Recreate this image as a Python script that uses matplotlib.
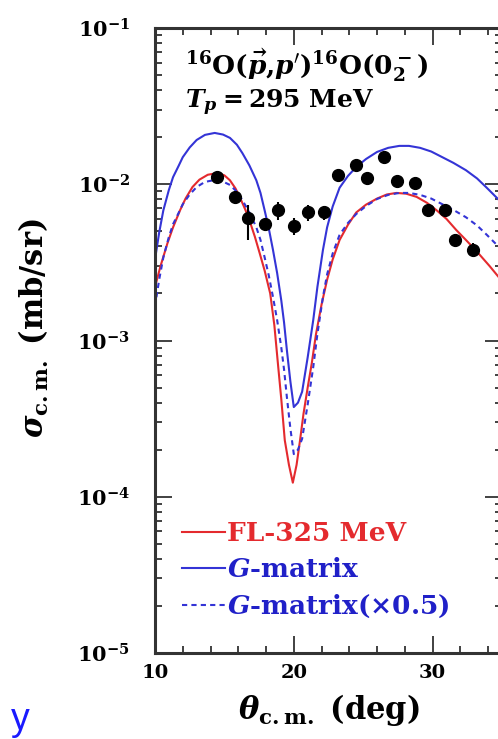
import matplotlib
matplotlib.use('Agg')
import matplotlib.pyplot as plt
import numpy as np
from matplotlib.ticker import FixedLocator, FixedFormatter, MultipleLocator, LogLocator, NullFormatter

plt.rcParams['font.family'] = ['DejaVu Serif']
plt.rcParams['font.weight'] = 'bold'
plt.rcParams['mathtext.fontset'] = 'dejavuserif'
plt.rcParams['mathtext.default'] = 'bf'

# measured cross sections (deg, mb/sr)
theta_exp = [14.5, 15.75, 16.7, 17.9, 18.85, 20.05, 21.0, 22.2, 23.2, 24.5,
             25.3, 26.5, 27.4, 28.7, 29.7, 30.9, 31.6, 32.9]
sig_exp = [0.0111, 0.0083, 0.0061, 0.0056, 0.0068, 0.0054, 0.0066, 0.0066, 0.0115, 0.0133,
           0.0110, 0.0149, 0.0105, 0.0102, 0.0068, 0.0068, 0.0044, 0.0038]
err_lo = [0.0008, 0.0007, 0.0017, 0.0005, 0.0009, 0.0007, 0.0008, 0.0007, 0.0008, 0.0009,
          0.0008, 0.0010, 0.0007, 0.0007, 0.0005, 0.0005, 0.0004, 0.0004]
err_hi = [0.0008, 0.0007, 0.0013, 0.0005, 0.0009, 0.0007, 0.0008, 0.0007, 0.0008, 0.0009,
          0.0008, 0.0010, 0.0007, 0.0007, 0.0005, 0.0005, 0.0004, 0.0004]

# FL-325 MeV calculation
theta_fl = [10.0, 10.4, 10.9, 11.3, 11.8, 12.2, 12.7, 13.2, 13.8, 14.5, 15.0, 15.4,
            15.8, 16.1, 16.5, 16.8, 17.2, 17.55, 17.9, 18.3, 18.6, 18.85, 19.1, 19.35,
            19.65, 19.93, 20.2, 20.45, 20.7, 21.0, 21.3, 21.6, 22.0, 22.4, 22.8, 23.3,
            23.9, 24.5, 25.2, 26.0, 26.7, 27.4, 28.1, 28.85, 29.6, 30.3, 31.0, 31.7,
            32.4, 33.2, 34.1, 35.0]
sig_fl = [0.0022, 0.0030, 0.0042, 0.0053, 0.0068, 0.0081, 0.0096, 0.0107, 0.0115, 0.0118,
          0.0114, 0.0106, 0.0094, 0.0083, 0.0069, 0.0059, 0.0046, 0.0036, 0.0028, 0.0020,
          0.00125, 0.00072, 0.00042, 0.00023, 0.00016, 0.000123, 0.00016, 0.00023, 0.00034,
          0.0005, 0.00072, 0.0011, 0.0017, 0.00245, 0.0033, 0.0044, 0.0055, 0.0066, 0.0074,
          0.0081, 0.0086, 0.0088, 0.0087, 0.0083, 0.0076, 0.0068, 0.0060, 0.0051, 0.0044,
          0.0037, 0.0030, 0.0024]

# G-matrix calculation
theta_g = [10.0, 10.3, 10.6, 11.0, 11.3, 11.7, 12.0, 12.5, 13.0, 13.6, 14.3, 14.9,
           15.4, 15.9, 16.3, 16.8, 17.3, 17.6, 17.9, 18.2, 18.5, 18.8, 19.1, 19.3,
           19.5, 19.75, 20.0, 20.3, 20.6, 21.0, 21.4, 21.7, 22.1, 22.4, 22.8, 23.3,
           23.9, 24.5, 25.2, 26.0, 26.8, 27.6, 28.3, 29.1, 29.9, 30.7, 31.5, 32.4,
           33.2, 33.9, 34.5, 35.0]
sig_g = [0.0033, 0.0049, 0.0068, 0.0092, 0.0111, 0.0131, 0.0149, 0.0172, 0.0192, 0.0207,
         0.0213, 0.0208, 0.0198, 0.0179, 0.0158, 0.0132, 0.0106, 0.0088, 0.0068, 0.0052,
         0.0038, 0.0027, 0.0018, 0.0013, 0.00087, 0.00055, 0.000375, 0.00040, 0.00047,
         0.00078, 0.00135, 0.0022, 0.0038, 0.0053, 0.0072, 0.0095, 0.0113, 0.0129, 0.0145,
         0.0161, 0.0171, 0.0176, 0.0176, 0.0171, 0.0162, 0.0149, 0.0137, 0.0123, 0.0109,
         0.0095, 0.0084, 0.0076]
g_scale = 0.5

red = '#e42a2e'
blue = '#3434d6'
txt_blue = '#2020c8'

fig = plt.figure(figsize=(4.98, 7.39), dpi=100)
ax = fig.add_axes([155/498, 86/739, 347/498, 625/739])

ax.plot(theta_fl, sig_fl, color=red, lw=1.5, label='FL-325 MeV')
ax.plot(theta_g, sig_g, color=blue, lw=1.5, label=r'$\mathbfit{G}$-matrix')
ax.plot(theta_g, np.array(sig_g)*g_scale, color=blue, lw=1.5, ls=(0, (2.5, 2)),
        label=r'$\mathbfit{G}$-matrix(×0.5)')
ax.errorbar(theta_exp, sig_exp, yerr=[err_lo, err_hi], fmt='o', color='k',
            ms=8.5, elinewidth=1.5, capsize=0, zorder=5)

ax.set_yscale('log')
ax.set_xlim(10, 35)
ax.set_ylim(1e-5, 1e-1)

ax.xaxis.set_major_locator(FixedLocator([10, 20, 30]))
ax.xaxis.set_minor_locator(MultipleLocator(2))
ax.yaxis.set_major_locator(FixedLocator([1e-5, 1e-4, 1e-3, 1e-2, 1e-1]))
ax.yaxis.set_major_formatter(FixedFormatter([r'$\mathbf{10^{-5}}$', r'$\mathbf{10^{-4}}$',
                                             r'$\mathbf{10^{-3}}$', r'$\mathbf{10^{-2}}$',
                                             r'$\mathbf{10^{-1}}$']))
ax.yaxis.set_minor_locator(LogLocator(base=10, subs=np.arange(2, 10)))
ax.yaxis.set_minor_formatter(NullFormatter())
ax.tick_params(which='both', direction='in', top=True, right=True, width=1.3, color='#333333')
ax.tick_params(which='major', length=12, labelsize=14)
ax.tick_params(which='minor', length=5)
ax.tick_params(axis='y', which='major', labelsize=15, pad=18)
ax.tick_params(axis='x', pad=8)
for s in ax.spines.values():
    s.set_linewidth(2.2)
    s.set_color('#333333')

ax.set_xlabel(r'$\mathbfit{\theta}_{\mathbf{c.m.}}$ (deg)', fontsize=22, fontweight='bold')
ax.set_ylabel(r'$\mathbfit{\sigma}_{\mathbf{c.m.}}$ (mb/sr)', fontsize=22, fontweight='bold')
ax.xaxis.set_label_coords(0.5, -0.063)
ax.yaxis.set_label_coords(-0.30, 0.52)

ax.text(0.086, 0.925, r"$^{16}$O($\vec{\mathbfit{p}}$,$\mathbfit{p}'$)$^{16}$O($0_2^-$)",
        transform=ax.transAxes, fontsize=19, color='k')
ax.text(0.086, 0.872, r"$\mathbfit{T}_{\mathbfit{p}}=$295 MeV",
        transform=ax.transAxes, fontsize=18, color='k')

leg = ax.legend(loc='lower left', bbox_to_anchor=(0.078, 0.052), frameon=False,
                fontsize=19, handlelength=1.63, handletextpad=0.08, labelspacing=0.42,
                borderaxespad=0, borderpad=0)
for t, c in zip(leg.get_texts(), [red, txt_blue, txt_blue]):
    t.set_color(c)

fig.text(0.022, 0.012, 'y', color='#1a1aff', fontsize=27, family='Liberation Sans',
         weight='normal')

fig.savefig('out.png', dpi=100)
